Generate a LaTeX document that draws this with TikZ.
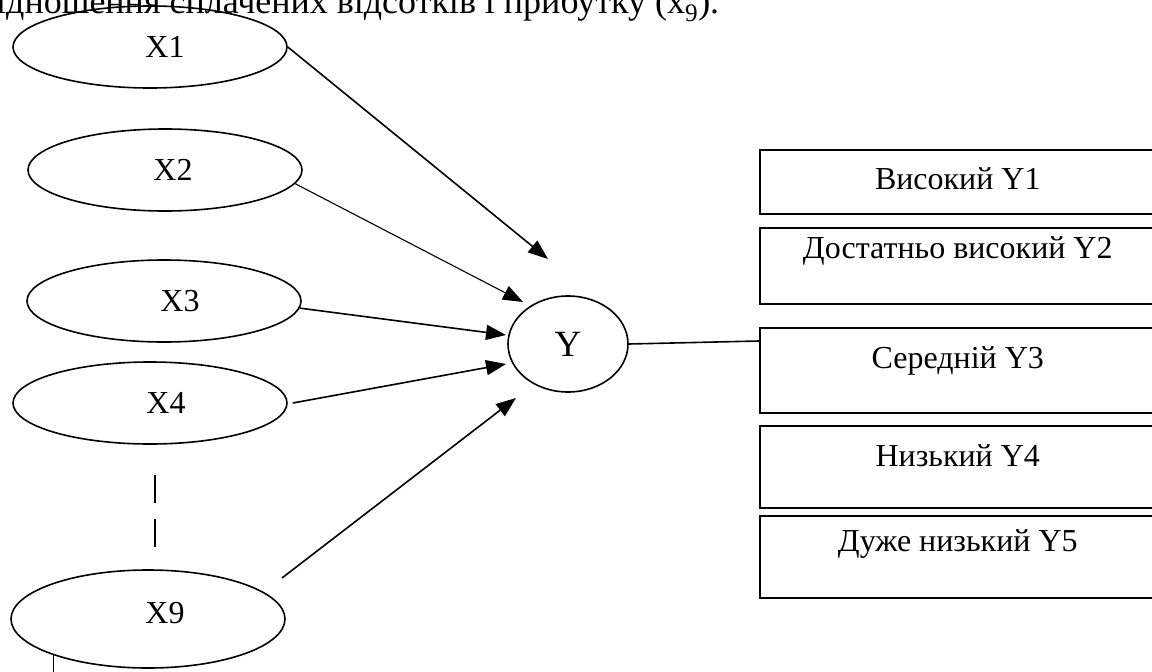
\documentclass[tikz,border=0pt]{standalone}
\usepackage{fontspec}
\setmainfont{Liberation Serif}
\usetikzlibrary{shapes.geometric,arrows.meta}
\tikzset{
  xnode/.style={draw, ellipse, line width=1.6pt, inner sep=0pt, minimum width=274pt, minimum height=82pt},
  ybox/.style={draw, rectangle, line width=1.6pt, inner sep=0pt, minimum width=396pt, anchor=north west},
  conn/.style={line width=1.6pt, -{Triangle[length=20pt,width=15pt]}},
  thinconn/.style={line width=1.1pt, -{Triangle[length=20pt,width=15pt]}},
  plain/.style={line width=1.6pt}
}
\begin{document}
\begin{tikzpicture}[x=1pt,y=-1pt,font=\fontsize{32}{38}\selectfont]
\useasboundingbox (0,0) rectangle (1152,672);
\clip (0,0) rectangle (1152,672);
% cropped caption line at the top
\node[anchor=base west, inner sep=0pt, font=\fontsize{36}{40}\selectfont] (cap) at (-21,13) {відношення сплачених відсотків і прибутку (x\textsubscript{9}).};
% input ellipses
\node[xnode, label={[xshift=15pt]center:X1}] (X1) at (150,47) {};
\node[xnode, label={[xshift=8pt]center:X2}] (X2) at (165,170) {};
\node[xnode, label={[xshift=16pt]center:X3}] (X3) at (164,301) {};
\node[xnode, label={[xshift=16pt]center:X4}] (X4) at (150,403) {};
\node[xnode, minimum height=98pt, label={[xshift=17pt, yshift=6pt]center:X9}] (X9) at (148,619) {};
% output ellipse
\node[draw, ellipse, line width=1.6pt, inner sep=0pt, minimum width=120pt, minimum height=96pt, font=\fontsize{37}{40}\selectfont] (Y) at (568,344) {Y};
% output boxes
\node[ybox, minimum height=64pt, label={[yshift=3pt]center:Високий Y1}] (Y1) at (759,149) {};
\node[ybox, minimum height=76pt, label={[yshift=15pt]center:Достатньо високий Y2}] (Y2) at (759,227) {};
\node[ybox, minimum height=85pt, label={[yshift=9pt]center:Середній Y3}] (Y3) at (759,327) {};
\node[ybox, minimum height=82pt, label={[yshift=11pt]center:Низький Y4}] (Y4) at (759,425) {};
\node[ybox, minimum height=82pt, label={[yshift=13pt]center:Дуже низький Y5}] (Y5) at (759,515) {};
% arrow tips and free ends
\coordinate (t1) at (548,259);
\coordinate (t2) at (523,302);
\coordinate (t3) at (506,335);
\coordinate (t4) at (506,364);
\coordinate (t9) at (516,398);
\coordinate (s9) at (282,578);
\coordinate (d1) at (155,475);
\coordinate (d2) at (155,547);
% connectors
\draw[conn] (X1.east) -- (t1);
\draw[thinconn] (X2.-6) -- (t2);
\draw[conn] (X3.-3) -- (t3);
\draw[conn] ([xshift=5pt]X4.east) -- (t4);
\draw[conn] (s9) -- (t9);
\draw[plain] (Y.east) -- ([yshift=-14pt]Y3.north west);
\draw[plain, dash pattern=on 28pt off 16pt] (d1) -- (d2);
\draw[plain] (X9.201) -- ++(0,30);
\end{tikzpicture}
\end{document}
